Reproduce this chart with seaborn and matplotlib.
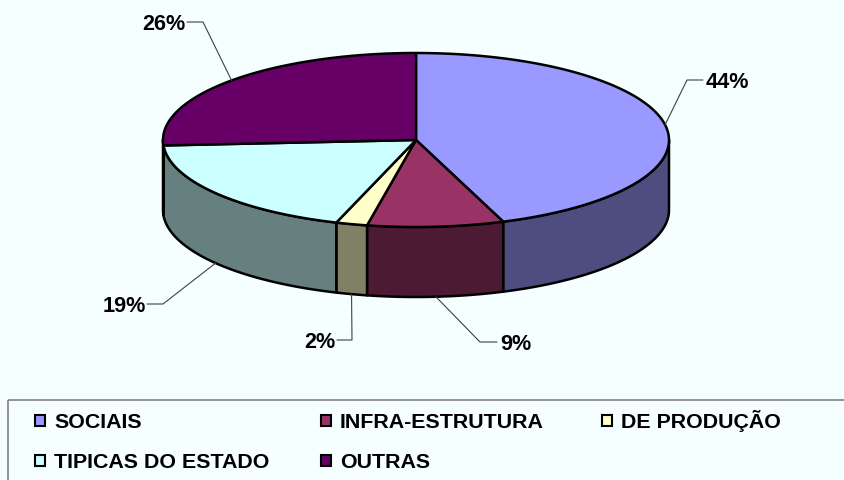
import numpy as np
import matplotlib
matplotlib.use("Agg")
import matplotlib.pyplot as plt
from matplotlib.patches import Rectangle
import seaborn as sns

categories = ["SOCIAIS", "INFRA-ESTRUTURA", "DE PRODUÇÃO", "TIPICAS DO ESTADO", "OUTRAS"]
shares = [44.4, 8.7, 2.0, 18.9, 26.0]
tick_labels = ["44%", "9%", "2%", "19%", "26%"]
top_colors = ["#9999FF", "#993366", "#FFFFCC", "#CCFFFF", "#660066"]

sns.set_theme(style="white")
plt.rcParams["font.family"] = ["Liberation Sans", "DejaVu Sans"]
palette = sns.color_palette(top_colors)
BG = "#F5FFFF"

# pie geometry in pixels
cx, cy, rx, ry, depth = 416, 141, 253, 87, 70


def rim(a0, a1, drop=0):
    # angle is clockwise from the top, like the office chart
    t = np.radians(np.linspace(a0, a1, 120))
    return cx + rx * np.sin(t), cy - ry * np.cos(t) + drop


fig, ax = plt.subplots(figsize=(8.45, 4.81), dpi=100)
fig.patch.set_facecolor(BG)
ax.set_position([0, 0, 1, 1])
ax.set_facecolor(BG)
ax.set_xlim(0, 845)
ax.set_ylim(481, 0)
ax.axis("off")

edges = np.cumsum([0] + shares) / sum(shares) * 360

# ------------------------------------------------------------------------------
# sides first, then the top surface
# ------------------------------------------------------------------------------
for i, col in enumerate(palette):
    a0, a1 = max(edges[i], 90), min(edges[i + 1], 270)
    if a1 <= a0:
        continue
    x, y = rim(a0, a1)
    xb, yb = rim(a0, a1, depth)
    side = tuple(c * 0.5 for c in col)
    ax.fill(np.r_[x, xb[::-1]], np.r_[y, yb[::-1]], facecolor=side, edgecolor="black",
            lw=1.8, joinstyle="round", zorder=2)

for i, col in enumerate(palette):
    x, y = rim(edges[i], edges[i + 1])
    ax.fill(np.r_[cx, x], np.r_[cy, y], facecolor=col, edgecolor="black",
            lw=1.8, joinstyle="round", zorder=3)

# ------------------------------------------------------------------------------
# leader lines and labels
# ------------------------------------------------------------------------------
elbows = [(687, 81, 703), (480, 343, 497), (352, 341, 337), (163, 305, 147), (203, 23, 187)]
for i, lab in enumerate(tick_labels):
    mid = np.radians((edges[i] + edges[i + 1]) / 2)
    sx = cx + rx * np.sin(mid)
    sy = cy - ry * np.cos(mid)
    if 90 < np.degrees(mid) < 270:
        sy += depth
    ex, ey, tx = elbows[i]
    ax.plot([sx, ex, tx], [sy, ey, ey], color="#404040", lw=0.8, zorder=4)
    right_side = tx > ex
    ax.text(tx + (3 if right_side else -1), ey + 7, lab, ha="left" if right_side else "right",
            va="baseline", fontsize=15.6, fontweight="bold", color="black", zorder=5)

# ------------------------------------------------------------------------------
# legend box, runs off the right and bottom of the picture
# ------------------------------------------------------------------------------
ax.add_patch(Rectangle((8, 401), 900, 120, facecolor="none", edgecolor="#808080", lw=1.2, zorder=1))
col_x = [34, 320, 601]
row_y = [421, 461]
for i, (name, col) in enumerate(zip(categories, palette)):
    x = col_x[i % 3]
    y = row_y[i // 3]
    ax.add_patch(Rectangle((x + 1, y - 5.5), 10.5, 11, facecolor=col, edgecolor="black", lw=1.5, zorder=3))
    ax.text(x + 20, y + 7, name, ha="left", va="baseline", fontsize=15.4,
            fontweight="bold", color="black", zorder=3)

fig.savefig("out.png", dpi=100, facecolor=BG)
